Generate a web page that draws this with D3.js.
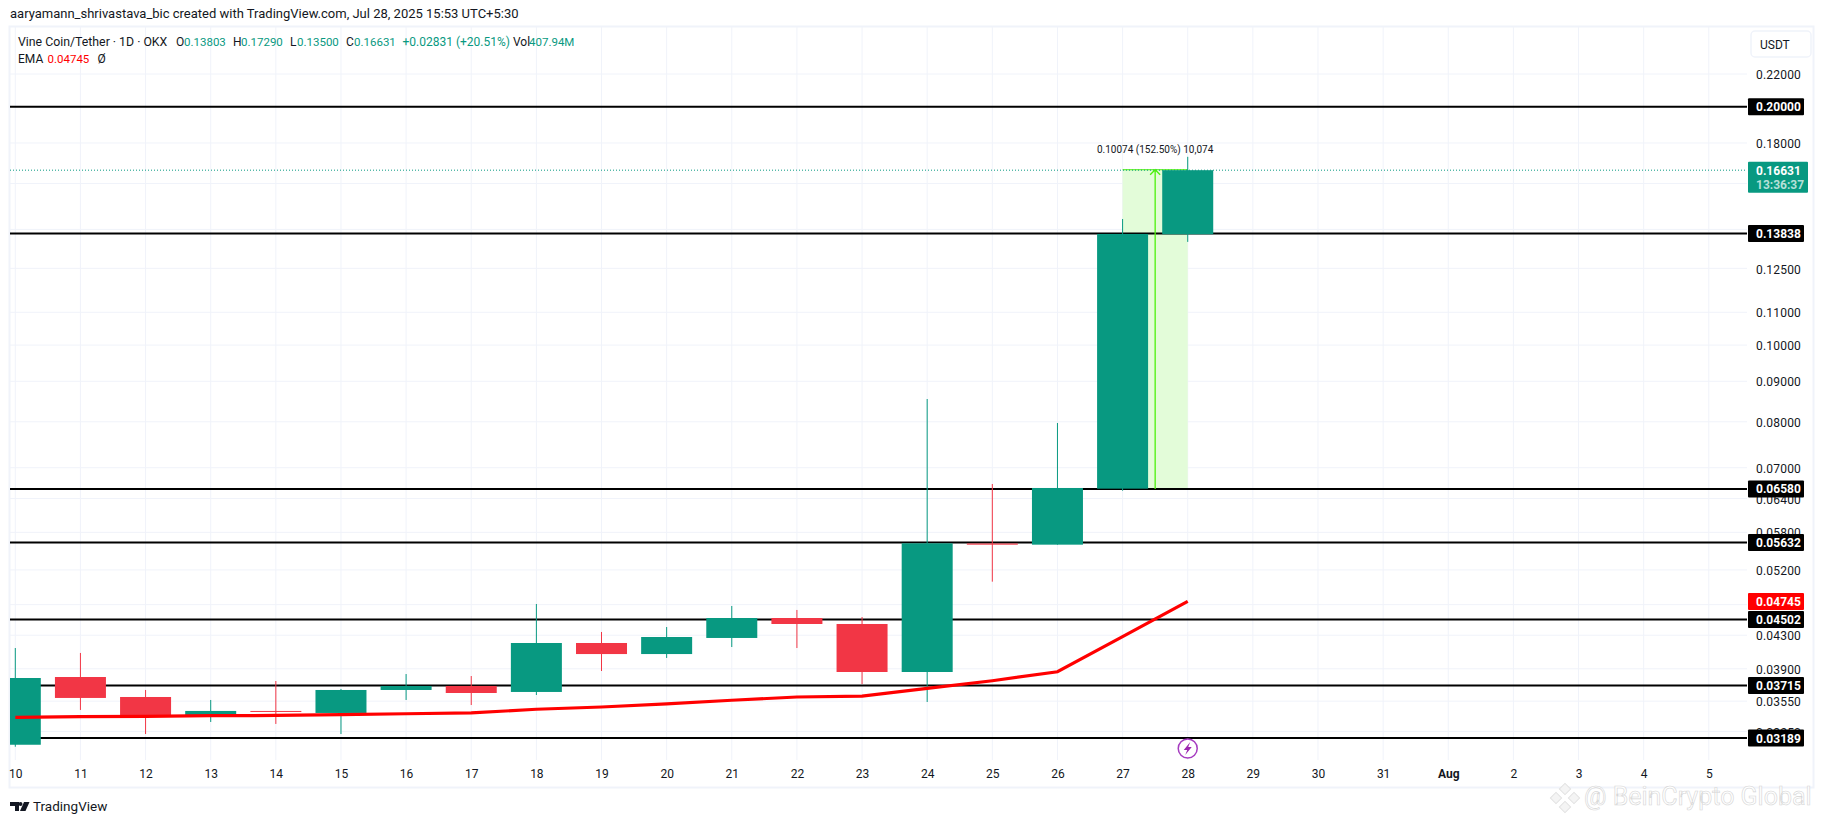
<!DOCTYPE html>
<html>
<head>
<meta charset="utf-8">
<script src="https://cdn.jsdelivr.net/npm/d3@7"></script>
<style>
  html, body { margin: 0; padding: 0; background: #fff; overflow: hidden; }
  text { font-family: Roboto, "Noto Sans", sans-serif; }
</style>
</head>
<body>
<svg id="chart"></svg>
<script>
var days = ["10","11","12","13","14","15","16","17","18","19","20","21","22","23","24","25","26","27","28","29","30","31","Aug","2","3","4","5"]

var opens  = [0.03127,0.03808,0.03593,0.03410,0.03450,0.03430,0.03667,0.03710,0.03646,0.04204,0.04071,0.04266,0.04521,0.04443,0.03864,0.05615,0.05596,0.06586,0.13803]
var highs  = [0.04143,0.04084,0.03667,0.03562,0.03764,0.03678,0.03841,0.03819,0.04709,0.04341,0.04404,0.04682,0.04628,0.04534,0.08548,0.06676,0.07972,0.14430,0.17290]
var lows   = [0.03109,0.03460,0.03226,0.03341,0.03322,0.03226,0.03562,0.03510,0.03614,0.03875,0.04025,0.04155,0.04143,0.03731,0.03541,0.05025,0.05596,0.06547,0.13500]
var closes = [0.03797,0.03583,0.03393,0.03450,0.03440,0.03667,0.03710,0.03635,0.04204,0.04071,0.04278,0.04521,0.04443,0.03864,0.05618,0.05596,0.06599,0.13815,0.16631]
var emaValues = [0.03387,0.03393,0.03397,0.03403,0.03405,0.03413,0.03422,0.03430,0.03467,0.03490,0.03521,0.03559,0.03593,0.03603,0.03685,0.03767,0.03867,0.04282,0.04745]

var yTicks = [0.22,0.18,0.16,0.14,0.125,0.11,0.10,0.09,0.08,0.07,0.064,0.058,0.052,0.047,0.043,0.039,0.0355,0.0325]
var levels = [0.2,0.13838,0.0658,0.05632,0.04502,0.03715,0.03189]
var lastPrice = 0.16631
var lastEma = 0.04745
var rangeLow = 0.0658
var rangeHigh = 0.16654
var rangeLabel = "0.10074 (152.50%) 10,074"

var width = 1825
var height = 824
var green = "#089981"
var red = "#f23645"
var gridColor = "#f0f3fa"
var plot = {left: 10, right: 1747, top: 27, bottom: 760}

var svg = d3.select("#chart")
            .attr("width", width)
            .attr("height", height)
            .style("display", "block")

var xScale = d3.scaleLinear().domain([0, 26]).range([15.3, 1708.8])
var yScale = d3.scaleLog().domain([0.22, 0.03189]).range([74, 738])
var bodyWidth = 51

var drawFrame = function()
{
  svg.append("rect")
     .attr("x", 9.5).attr("y", 26.5)
     .attr("width", 1804).attr("height", 761)
     .attr("fill", "none")
     .attr("stroke", gridColor)
     .attr("stroke-width", 2)

  svg.append("defs").append("clipPath")
     .attr("id", "plotClip")
     .append("rect")
     .attr("x", plot.left).attr("y", plot.top)
     .attr("width", plot.right - plot.left)
     .attr("height", plot.bottom - plot.top)
}

var drawGrid = function()
{
  svg.append("g").selectAll("line")
     .data(days)
     .enter()
     .append("line")
     .attr("x1", function(d,i){return xScale(i)})
     .attr("x2", function(d,i){return xScale(i)})
     .attr("y1", plot.top)
     .attr("y2", plot.bottom)
     .attr("stroke", gridColor)

  svg.append("g").selectAll("line")
     .data(yTicks)
     .enter()
     .append("line")
     .attr("x1", plot.left)
     .attr("x2", plot.right)
     .attr("y1", function(d){return yScale(d)})
     .attr("y2", function(d){return yScale(d)})
     .attr("stroke", gridColor)
}

var drawAxes = function()
{
  var xAxis = d3.axisBottom(xScale)
                .tickValues(d3.range(days.length))
                .tickFormat(function(d){return days[d]})
                .tickSize(0)
                .tickPadding(0)
  var gx = svg.append("g")
              .attr("transform", "translate(0, 769.5)")
              .call(xAxis)
  gx.select(".domain").remove()
  gx.selectAll("text")
    .style("font-family", "Roboto, sans-serif")
    .style("font-size", "12px")
    .attr("fill", "#131722")
    .style("font-weight", function(d){return days[d] == "Aug" ? "bold" : "normal"})

  var yAxis = d3.axisRight(yScale)
                .tickValues(yTicks)
                .tickFormat(d3.format(".5f"))
                .tickSize(0)
                .tickPadding(0)
  var gy = svg.append("g")
              .attr("transform", "translate(1756, 0.8)")
              .call(yAxis)
  gy.select(".domain").remove()
  gy.selectAll("text")
    .style("font-family", "Roboto, sans-serif")
    .style("font-size", "12px")
    .style("letter-spacing", "0.2px")
    .attr("fill", "#131722")
}

var drawRange = function()
{
  var left = xScale(17)
  var right = xScale(18)
  var mid = (left + right) / 2
  var top = yScale(rangeHigh)
  var bottom = yScale(rangeLow)
  var col = "#4cf10c"

  svg.append("rect")
     .attr("x", left).attr("y", top)
     .attr("width", right - left).attr("height", bottom - top)
     .attr("fill", "#e3fcd9")
  svg.append("path")
     .attr("d", "M" + left + "," + top + "H" + right + "M" + left + "," + bottom + "H" + right)
     .attr("stroke", col)
     .attr("fill", "none")
  svg.append("text")
     .attr("x", mid).attr("y", top - 17)
     .attr("text-anchor", "middle")
     .attr("font-size", "10px")
     .attr("fill", "#131722")
     .text(rangeLabel)
  return {mid: mid, top: top, bottom: bottom, col: col}
}

var drawLevels = function()
{
  svg.append("g").selectAll("line")
     .data(levels)
     .enter()
     .append("line")
     .attr("x1", plot.left)
     .attr("x2", plot.right)
     .attr("y1", function(d){return yScale(d)})
     .attr("y2", function(d){return yScale(d)})
     .attr("stroke", "#000")
     .attr("stroke-width", 2)

  svg.append("line")
     .attr("x1", plot.left)
     .attr("x2", plot.right)
     .attr("y1", yScale(lastPrice))
     .attr("y2", yScale(lastPrice))
     .attr("stroke", green)
     .attr("stroke-dasharray", "1 2")
}

var drawCandles = function()
{
  var g = svg.append("g").attr("clip-path", "url(#plotClip)")
  var color = function(i){return closes[i] >= opens[i] ? green : red}

  g.selectAll(".wick")
   .data(highs)
   .enter()
   .append("line")
   .attr("class", "wick")
   .attr("x1", function(d,i){return xScale(i)})
   .attr("x2", function(d,i){return xScale(i)})
   .attr("y1", function(d){return yScale(d)})
   .attr("y2", function(d,i){return yScale(lows[i])})
   .attr("stroke", function(d,i){return color(i)})

  g.selectAll(".body")
   .data(opens)
   .enter()
   .append("rect")
   .attr("class", "body")
   .attr("x", function(d,i){return xScale(i) - bodyWidth / 2})
   .attr("width", bodyWidth)
   .attr("y", function(d,i){return yScale(Math.max(d, closes[i]))})
   .attr("height", function(d,i){return Math.max(1, Math.abs(yScale(d) - yScale(closes[i])))})
   .attr("fill", function(d,i){return color(i)})
}

var drawEma = function()
{
  var line = d3.line()
               .x(function(d,i){return xScale(i)})
               .y(function(d){return yScale(d)})
  svg.append("path")
     .attr("clip-path", "url(#plotClip)")
     .attr("d", line(emaValues))
     .attr("fill", "none")
     .attr("stroke", "#ff0000")
     .attr("stroke-width", 3.2)
}

var drawArrow = function(r)
{
  svg.append("path")
     .attr("d", "M" + r.mid + "," + r.bottom + "V" + r.top
        + "M" + (r.mid - 5) + "," + (r.top + 5) + "L" + r.mid + "," + r.top + "L" + (r.mid + 5) + "," + (r.top + 5))
     .attr("stroke", r.col)
     .attr("stroke-width", 1.3)
     .attr("fill", "none")
}

var priceBox = function(value, color)
{
  var yy = yScale(value)
  svg.append("rect")
     .attr("x", 1748).attr("y", yy - 8.5)
     .attr("width", 56).attr("height", 17)
     .attr("rx", 1)
     .attr("fill", color)
  svg.append("text")
     .attr("x", 1756).attr("y", yy + 4.5)
     .attr("font-size", "12px")
     .attr("font-weight", "bold")
     .attr("fill", "#fff")
     .text(d3.format(".5f")(value))
}

var drawPriceLabels = function()
{
  levels.forEach(function(d){priceBox(d, "#000")})
  priceBox(lastEma, "#ff0000")

  var yy = yScale(lastPrice)
  svg.append("rect")
     .attr("x", 1748).attr("y", yy - 8.5)
     .attr("width", 60).attr("height", 31)
     .attr("rx", 1)
     .attr("fill", green)
  svg.append("text")
     .attr("x", 1756).attr("y", yy + 4.5)
     .attr("font-size", "12px").attr("font-weight", "bold")
     .attr("fill", "#fff")
     .text(d3.format(".5f")(lastPrice))
  svg.append("text")
     .attr("x", 1756).attr("y", yy + 18.5)
     .attr("font-size", "12px").attr("font-weight", "bold")
     .attr("fill", "#b5e0d8")
     .text("13:36:37")

  svg.append("rect")
     .attr("x", 1751).attr("y", 31)
     .attr("width", 60).attr("height", 26)
     .attr("rx", 4)
     .attr("fill", "#fff")
     .attr("stroke", gridColor)
     .attr("stroke-width", 1.5)
  svg.append("text")
     .attr("x", 1760).attr("y", 49)
     .attr("font-size", "12px")
     .attr("fill", "#131722")
     .text("USDT")
}

var drawHeader = function()
{
  var put = function(x, y, str, col, size)
  {
    svg.append("text")
       .attr("x", x).attr("y", y)
       .attr("font-size", (size || 12) + "px")
       .attr("fill", col || "#131722")
       .text(str)
  }
  put(10, 18, "aaryamann_shrivastava_bic created with TradingView.com, Jul 28, 2025 15:53 UTC+5:30", "#131722", 13)

  put(18, 46, "Vine Coin/Tether · 1D · OKX", "#131722", 12.3)
  put(176, 46, "O")
  put(184, 46, "0.13803", green, 11.5)
  put(233, 46, "H")
  put(241, 46, "0.17290", green, 11.5)
  put(290, 46, "L")
  put(297, 46, "0.13500", green, 11.5)
  put(346, 46, "C")
  put(354, 46, "0.16631", green, 11.5)
  put(402.5, 46, "+0.02831 (+20.51%)", green)
  put(513, 46, "Vol")
  put(529, 46, "407.94M", green, 11.5)

  put(18, 63, "EMA")
  put(47.5, 63, "0.04745", "#ff0000", 11.5)
  put(97.5, 63, "Ø")
}

var drawFooter = function()
{
  // TradingView logo, rough shape
  var logo = svg.append("g").attr("fill", "#131722")
  logo.append("path").attr("d", "M10,802H19V811H15V806H10Z")
  logo.append("circle").attr("cx", 20.5).attr("cy", 804).attr("r", 2)
  logo.append("path").attr("d", "M24,802H29.5L25.5,811H20Z")
  svg.append("text")
     .attr("x", 33).attr("y", 811)
     .attr("font-size", "13.5px")
     .attr("fill", "#131722")
     .text("TradingView")

  // event marker on the 28th
  var cx = xScale(18)
  svg.append("circle")
     .attr("cx", cx).attr("cy", 748.5)
     .attr("r", 9.5)
     .attr("fill", "#fff")
     .attr("stroke", "#a63cc0")
     .attr("stroke-width", 1.5)
  svg.append("path")
     .attr("d", "M" + (cx + 2.5) + ",742L" + (cx - 4) + ",750H" + (cx - 0.5) + "L" + (cx - 2.5) + ",755L" + (cx + 4) + ",747H" + (cx + 0.5) + "Z")
     .attr("fill", "#9c27b0")

  // watermark
  var wm = svg.append("g").attr("stroke", "#e2e2e2")
  ;[[1565,789],[1556,798],[1574,798],[1565,807]].forEach(function(p)
  {
    wm.append("rect")
      .attr("x", p[0] - 4).attr("y", p[1] - 4)
      .attr("width", 8).attr("height", 8)
      .attr("transform", "rotate(45 " + p[0] + " " + p[1] + ")")
      .attr("fill", "#f4f4f4")
  })
  svg.append("text")
     .attr("x", 1584).attr("y", 805)
     .attr("font-size", "25px")
     .attr("fill", "#fff")
     .attr("stroke", "#d5d5d5")
     .attr("stroke-width", 0.6)
     .text("@ BeinCrypto Global")
}

drawFrame()
drawGrid()
drawAxes()
var range = drawRange()
drawLevels()
drawCandles()
drawEma()
drawArrow(range)
drawPriceLabels()
drawHeader()
drawFooter()
</script>
</body>
</html>
